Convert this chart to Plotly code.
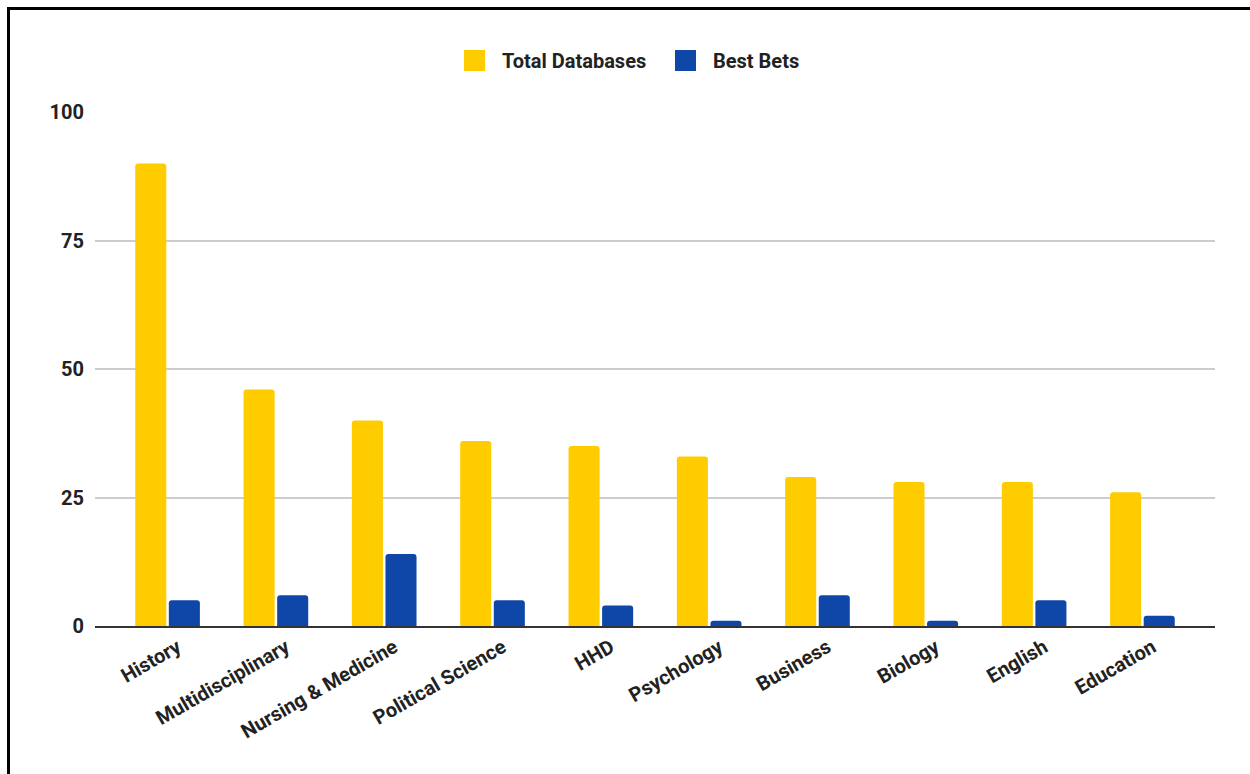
import plotly.graph_objects as go

# Database counts per subject area
subjects = ["History", "Multidisciplinary", "Nursing & Medicine", "Political Science",
            "HHD", "Psychology", "Business", "Biology", "English", "Education"]
total_databases = [90, 46, 40, 36, 35, 33, 29, 28, 28, 26]
best_bets = [5, 6, 14, 5, 4, 1, 6, 1, 5, 2]

series_names = ["Total Databases", "Best Bets"]
series_colors = ["#FFCC00", "#0F47A9"]
y_ticks = [0, 25, 50, 75, 100]

W, H = 1250, 774
ML, MR, MT, MB = 95, 35, 112, 148
PW, PH = W - ML - MR, H - MT - MB


def px_x(p):
    return (p - ML) / PW


def px_y(p):
    return (H - MB - p) / PH


FONT = "Roboto, Arial, sans-serif"

fig = go.Figure()
for name, vals, col in zip(series_names, [total_databases, best_bets], series_colors):
    fig.add_trace(go.Bar(
        x=subjects, y=vals, name=name,
        marker=dict(color=col, cornerradius=3, line=dict(width=0)),
        showlegend=False,
    ))

# legend drawn as swatches plus labels above the plot
legend_items = [(464, 500), (675, 711)]
shapes = []
annotations = []
for (sx, tx), name, col in zip(legend_items, series_names, series_colors):
    shapes.append(dict(type="rect", xref="paper", yref="paper",
                       x0=px_x(sx), x1=px_x(sx + 21), y0=px_y(71), y1=px_y(50),
                       fillcolor=col, line=dict(width=0)))
    annotations.append(dict(xref="paper", yref="paper", x=px_x(tx), y=px_y(61),
                            xanchor="left", yanchor="middle", showarrow=False,
                            text=name, font=dict(family=FONT, size=20, color="#222222", weight=700)))

# outer frame
shapes.append(dict(type="rect", xref="paper", yref="paper",
                   x0=px_x(8.5), x1=px_x(1270), y0=px_y(800), y1=px_y(8.5),
                   line=dict(color="#000000", width=3), fillcolor="rgba(0,0,0,0)", layer="above"))

fig.update_layout(
    width=W, height=H,
    margin=dict(l=ML, r=MR, t=MT, b=MB),
    paper_bgcolor="white", plot_bgcolor="white",
    barmode="group", bargap=0.38, bargroupgap=0.075,
    shapes=shapes, annotations=annotations,
    font=dict(family=FONT, size=20, color="#222222"),
    xaxis=dict(
        range=[-0.67, 9.67], tickangle=-30, showgrid=False,
        showline=True, linecolor="#333333", linewidth=2,
        tickfont=dict(family=FONT, size=20, color="#222222", weight=700),
        ticks="", ticklabelshift=10, fixedrange=True,
    ),
    yaxis=dict(
        range=[0, 100], tickvals=y_ticks, ticktext=[str(v) for v in y_ticks],
        showgrid=True, gridcolor="#cccccc", gridwidth=1.5, zeroline=False,
        showline=False, ticks="", ticklabelstandoff=10,
        tickfont=dict(family=FONT, size=20, color="#222222", weight=700),
    ),
)

fig.write_html("out.html")
